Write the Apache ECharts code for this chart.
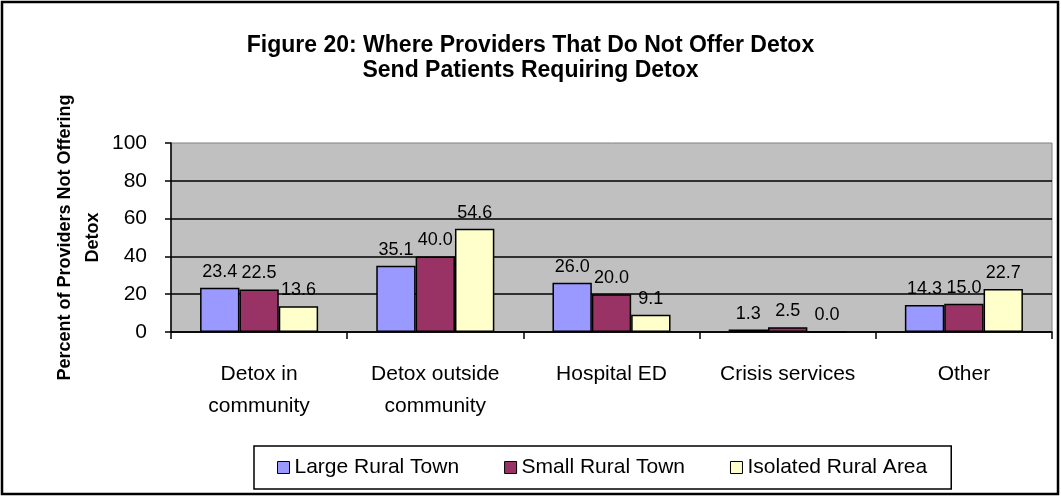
<!DOCTYPE html>
<html>
<head>
<meta charset="utf-8">
<title>Figure 20</title>
<script src="https://cdn.jsdelivr.net/npm/echarts@6/dist/echarts.min.js"></script>
<style>
  html, body { margin: 0; padding: 0; background: #fff; }
  #chart { width: 1061px; height: 497px; }
</style>
</head>
<body>
<div id="chart"></div>
<script>
var categories = ["Detox in\ncommunity", "Detox outside\ncommunity", "Hospital ED", "Crisis services", "Other"];
var seriesNames = ["Large Rural Town", "Small Rural Town", "Isolated Rural Area"];
var largeRuralTown = [23.4, 35.1, 26.0, 1.3, 14.3];
var smallRuralTown = [22.5, 40.0, 20.0, 2.5, 15.0];
var isolatedRuralArea = [13.6, 54.6, 9.1, 0.0, 22.7];
var colors = ["#9999ff", "#993366", "#ffffcc"];

var font = "Arial, 'Liberation Sans', sans-serif";

function barSeries(name, data, color) {
  return {
    name: name,
    type: "bar",
    data: data,
    barGap: "0%",
    barCategoryGap: "33%",
    itemStyle: {
      color: color,
      borderColor: "#000",
      borderWidth: 1.5
    },
    label: {
      show: true,
      position: "top",
      distance: 7,
      color: "#000",
      fontFamily: font,
      fontSize: 18,
      formatter: function (p) {
        return p.value.toFixed(1);
      }
    }
  };
}

var option = {
  animation: false,
  color: colors,
  title: {
    text: "Figure 20: Where Providers That Do Not Offer Detox\nSend Patients Requiring Detox",
    left: "center",
    top: 33,
    padding: 0,
    textStyle: {
      fontFamily: font,
      fontSize: 23,
      fontWeight: "bold",
      lineHeight: 25,
      color: "#000"
    }
  },
  legend: {
    data: seriesNames,
    left: 254,
    top: 446,
    padding: [11, 24, 11, 23],
    itemWidth: 12,
    itemHeight: 12,
    itemGap: 45,
    borderColor: "#000",
    borderWidth: 1.5,
    icon: "rect",
    itemStyle: {
      borderColor: "#000",
      borderWidth: 1
    },
    textStyle: {
      fontFamily: font,
      fontSize: 21,
      color: "#000"
    }
  },
  grid: {
    left: 171,
    right: 9,
    top: 143,
    bottom: 165,
    show: true,
    backgroundColor: "#c0c0c0",
    borderColor: "#808080",
    borderWidth: 1
  },
  xAxis: {
    type: "category",
    data: categories,
    axisLine: { lineStyle: { color: "#000", width: 1.5 } },
    axisTick: { show: true, length: 7, lineStyle: { color: "#000", width: 1.5 } },
    axisLabel: {
      margin: 26,
      interval: 0,
      fontFamily: font,
      fontSize: 21,
      lineHeight: 32,
      color: "#000"
    }
  },
  yAxis: {
    type: "value",
    min: 0,
    max: 100,
    interval: 20,
    name: "Percent of Providers Not Offering\nDetox",
    nameLocation: "middle",
    nameRotate: 90,
    nameGap: 64,
    nameMoveOverlap: false,
    nameTextStyle: {
      fontFamily: font,
      fontSize: 18,
      fontWeight: "bold",
      lineHeight: 28,
      color: "#000"
    },
    axisLine: { show: true, lineStyle: { color: "#000", width: 1.5 } },
    axisTick: { show: true, length: 6, lineStyle: { color: "#000", width: 1.5 } },
    axisLabel: {
      margin: 24,
      fontFamily: font,
      fontSize: 21,
      color: "#000"
    },
    splitLine: {
      show: true,
      showMaxLine: false,
      lineStyle: { color: "#000", width: 1.5 }
    }
  },
  graphic: [
    {
      type: "rect",
      shape: { x: 2, y: 2, width: 1056, height: 492 },
      style: { fill: null, stroke: "#000", lineWidth: 2.5 },
      silent: true
    }
  ],
  series: [
    barSeries(seriesNames[0], largeRuralTown, colors[0]),
    barSeries(seriesNames[1], smallRuralTown, colors[1]),
    barSeries(seriesNames[2], isolatedRuralArea, colors[2])
  ]
};

var myChart = echarts.init(document.getElementById("chart"));
myChart.setOption(option);
window.addEventListener("resize", function () {
  myChart.resize();
});
</script>
</body>
</html>
